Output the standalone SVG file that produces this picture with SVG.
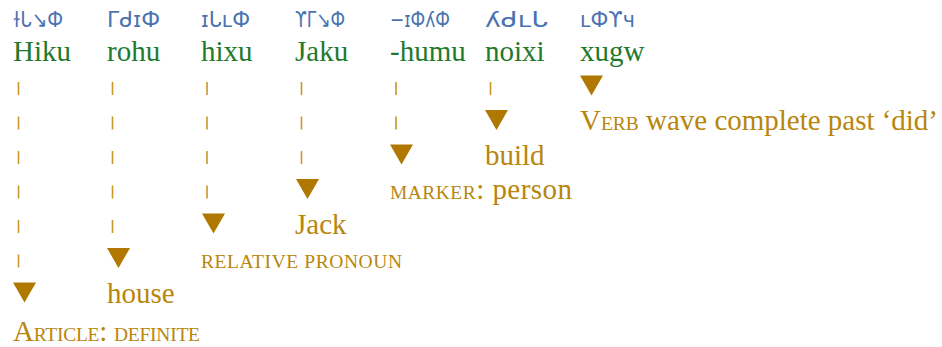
<svg xmlns="http://www.w3.org/2000/svg" width="942" height="347" viewBox="0 0 942 347">
<style>
.bg{fill:#ffffff}
.glyph{font-family:"DejaVu Sans","Noto Sans",sans-serif;font-size:22px;fill:#4a72b0}
.word{font-family:"Liberation Serif",serif;font-size:29px;fill:#1f7a2c}
.lbl{font-family:"Liberation Serif",serif;font-size:29px;fill:#b8860b}
.sc{font-size:19.5px}
.dash{stroke:#c9962a;stroke-width:1.6;stroke-dasharray:13 21.5;fill:none}
.tri{fill:#b07800}
</style>
<rect class="bg" x="0" y="0" width="942" height="347"/>
<g id="connectors">
<line class="dash" x1="18.5" y1="82" x2="18.5" y2="268"/>
<line class="dash" x1="112.5" y1="82" x2="112.5" y2="233.5"/>
<line class="dash" x1="207" y1="82" x2="207" y2="199"/>
<line class="dash" x1="301.5" y1="82" x2="301.5" y2="164.5"/>
<line class="dash" x1="396" y1="82" x2="396" y2="130"/>
<line class="dash" x1="490.5" y1="82" x2="490.5" y2="95"/>
<polygon class="tri" points="13,282.5 36,282.5 24.5,302.5"/>
<polygon class="tri" points="107,248 130,248 118.5,268"/>
<polygon class="tri" points="202,213.5 225,213.5 213.5,233.5"/>
<polygon class="tri" points="296,179 319,179 307.5,199"/>
<polygon class="tri" points="390,144.5 413,144.5 401.5,164.5"/>
<polygon class="tri" points="485,110 508,110 496.5,130"/>
<polygon class="tri" points="580,75.5 603,75.5 591.5,95.5"/>
</g>
<g id="hiku">
<text class="glyph" x="13" y="27" textLength="50" lengthAdjust="spacingAndGlyphs">ɫᒐ↘Ф</text>
<text class="word" x="13" y="61">Hiku</text>
<text class="lbl" x="13" y="341" textLength="187" lengthAdjust="spacing">A<tspan class="sc">RTICLE</tspan>: <tspan class="sc">DEFINITE</tspan></text>
</g>
<g id="rohu">
<text class="glyph" x="107" y="27" textLength="53" lengthAdjust="spacingAndGlyphs">ΓᑯɪФ</text>
<text class="word" x="107" y="61">rohu</text>
<text class="lbl" x="107" y="303">house</text>
</g>
<g id="hixu">
<text class="glyph" x="201" y="27" textLength="49" lengthAdjust="spacingAndGlyphs">ɪᒐʟФ</text>
<text class="word" x="201" y="61">hixu</text>
<text class="lbl" x="201" y="268" textLength="201" lengthAdjust="spacing"><tspan class="sc">RELATIVE PRONOUN</tspan></text>
</g>
<g id="jaku">
<text class="glyph" x="295" y="27" textLength="50" lengthAdjust="spacingAndGlyphs">ϒᒥ↘Ф</text>
<text class="word" x="295" y="61">Jaku</text>
<text class="lbl" x="295" y="234">Jack</text>
</g>
<g id="humu">
<text class="glyph" x="390" y="27" textLength="60" lengthAdjust="spacingAndGlyphs">−ɪФʎФ</text>
<text class="word" x="390" y="61">-humu</text>
<text class="lbl" x="390" y="199" textLength="182" lengthAdjust="spacing"><tspan class="sc">MARKER</tspan>: person</text>
</g>
<g id="noixi">
<text class="glyph" x="485" y="27" textLength="63" lengthAdjust="spacingAndGlyphs">ʎᑯʟᒐ</text>
<text class="word" x="485" y="61">noixi</text>
<text class="lbl" x="485" y="165">build</text>
</g>
<g id="xugw">
<text class="glyph" x="580" y="27" textLength="55" lengthAdjust="spacingAndGlyphs">ʟФϒч</text>
<text class="word" x="580" y="61">xugw</text>
<text class="lbl" x="580" y="130" textLength="358" lengthAdjust="spacing">V<tspan class="sc">ERB</tspan> wave complete past ‘did’</text>
</g>
</svg>
